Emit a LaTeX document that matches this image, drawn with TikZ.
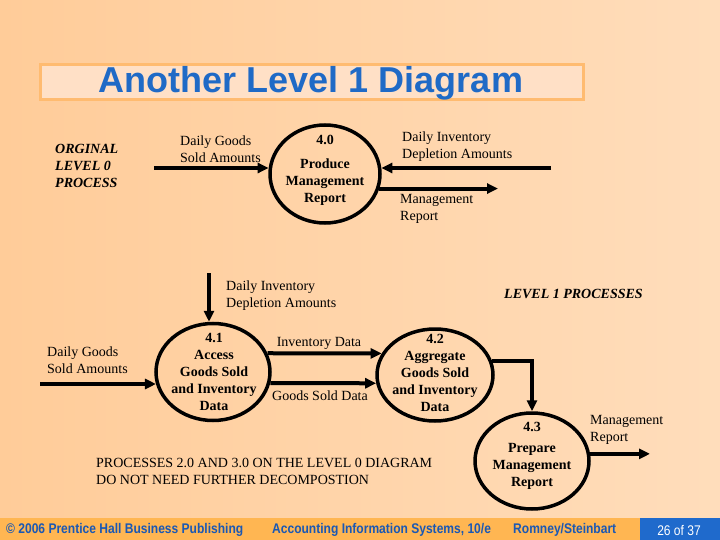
\documentclass[tikz,border=0pt]{standalone}
\usepackage{fontspec}
\setmainfont{Liberation Serif}
\newfontfamily\titlefont{Liberation Sans}
\newfontfamily\footfont[FakeStretch=0.86]{Liberation Sans}
\usepackage{tikz}
\usetikzlibrary{arrows.meta, shapes.geometric}
\definecolor{bgleft}{HTML}{FFCC99}
\definecolor{bgright}{HTML}{FFDDBB}
\definecolor{titlefill}{HTML}{FFE0C6}
\definecolor{titleline}{HTML}{FFBB70}
\definecolor{titleblue}{HTML}{1F6AC6}
\definecolor{footorange}{HTML}{FFB652}
\definecolor{footblue}{HTML}{1F6ACC}
\definecolor{foottext}{HTML}{1A58B4}
\tikzset{
  proc/.style={
    draw=black, line width=3.5pt, ellipse,
    inner sep=0pt,
  },
  flow/.style={-{Triangle[length=11pt, width=10pt]}, line width=4pt},
  lbl/.style={font=\fontsize{14}{17}\selectfont, inner sep=0pt,
    align=left, anchor=west},
  ptxt/.style={font=\fontsize{14}{17}\selectfont\bfseries, inner sep=0pt,
    align=center},
  note/.style={font=\fontsize{14}{17}\selectfont\bfseries\itshape,
    inner sep=0pt, align=left, anchor=west},
  foot/.style={font=\footfont\fontsize{14}{16}\selectfont\bfseries,
    text=foottext, inner sep=0pt, anchor=west},
}
\newcommand{\pnum}[1]{#1}

\begin{document}
\begin{tikzpicture}[x=1pt, y=-1pt]

\useasboundingbox (0,0) rectangle (720,540);
\shade[left color=bgleft, right color=bgright] (0,0) rectangle (720,540);

% title
\draw[titleline, line width=3pt, fill=titlefill] (40,65) rectangle (583,100);
\node[font=\titlefont\fontsize{36}{40}\selectfont\bfseries, text=titleblue,
  inner sep=0pt] (title) at (311,83) {Another Level 1 Diagram};

% original level 0 process
\node[note] (orig) at (55,166) {ORGINAL\\LEVEL 0\\PROCESS};
\node[proc, minimum width=110pt, minimum height=98pt] (p40) at (325,174) {};
\node[ptxt] (p40num) at (325,140) {\pnum{4.0}};
\node[ptxt] (p40txt) at (325,182) {Produce\\Management\\Report};

\coordinate (in40) at (154,168);
\coordinate (dep40) at (551,168);
\coordinate (rep40) at (498,188);
\draw[flow] (in40) -- (in40 -| p40.174);
\draw[flow] (dep40) -- (dep40 -| p40.6);
\draw[flow] (p40.-15) -- (p40.-15 -| rep40);

\node[lbl] (l40a) at (180,149) {Daily Goods\\Sold Amounts};
\node[lbl] (l40b) at (402,146.5) {Daily Inventory\\Depletion Amounts};
\node[lbl] (l40c) at (400,208.5) {Management\\Report};

% level 1 processes
\node[note] (lvl1) at (504,294) {LEVEL 1 PROCESSES};

\node[proc, minimum width=114pt, minimum height=97pt] (p41) at (213,372) {};
\node[ptxt] (p41txt) at (214,371.5)
  {\pnum{4.1}\\Access\\Goods Sold\\and Inventory\\Data};
\node[proc, minimum width=116pt, minimum height=92pt] (p42) at (435,375) {};
\node[ptxt] (p42txt) at (435,372.5)
  {\pnum{4.2}\\Aggregate\\Goods Sold\\and Inventory\\Data};
\node[proc, minimum width=114pt, minimum height=96pt] (p43) at (532,461) {};
\node[ptxt] (p43num) at (532,427) {\pnum{4.3}};
\node[ptxt] (p43txt) at (532,466) {Prepare\\Management\\Report};

\coordinate (dep41) at (209,273);
\coordinate (in41) at (40,384);
\coordinate (out43) at (650,454);
\draw[flow] (dep41) -- (dep41 |- p41.north);
\draw[flow] (in41) -- (in41 -| p41.192);
\draw[flow] (p41.19) -- (p42.158);
\draw[flow] (p41.-11) -- (p42.188);
\draw[flow] (p42.14) -| (p43.north);
\draw[flow] (p43.7) -- (p43.7 -| out43);

\node[lbl] (l41a) at (226,295.5) {Daily Inventory\\Depletion Amounts};
\node[lbl] (l41b) at (47,360.5) {Daily Goods\\Sold Amounts};
\node[lbl, anchor=center] (l41c) at (319,343) {Inventory Data};
\node[lbl, anchor=center] (l41d) at (320,396) {Goods Sold Data};
\node[lbl] (l43) at (590,429.5) {Management\\Report};

\node[lbl] (remark) at (96,471.5)
  {PROCESSES 2.0 AND 3.0 ON THE LEVEL 0 DIAGRAM\\DO NOT NEED FURTHER DECOMPOSTION};

% footer
\fill[footorange] (0,518) rectangle (640,540);
\fill[footblue] (640,518) rectangle (720,540);
\node[foot] (f1) at (6,530) {\textcopyright{} 2006 Prentice Hall Business Publishing};
\node[foot] (f2) at (272,530) {Accounting Information Systems, 10/e};
\node[foot] (f3) at (513,530) {Romney/Steinbart};
\node[foot, text=white, anchor=center, font=\footfont\fontsize{14}{16}\selectfont]
  (f4) at (679,530) {26 of 37};

\end{tikzpicture}
\end{document}
